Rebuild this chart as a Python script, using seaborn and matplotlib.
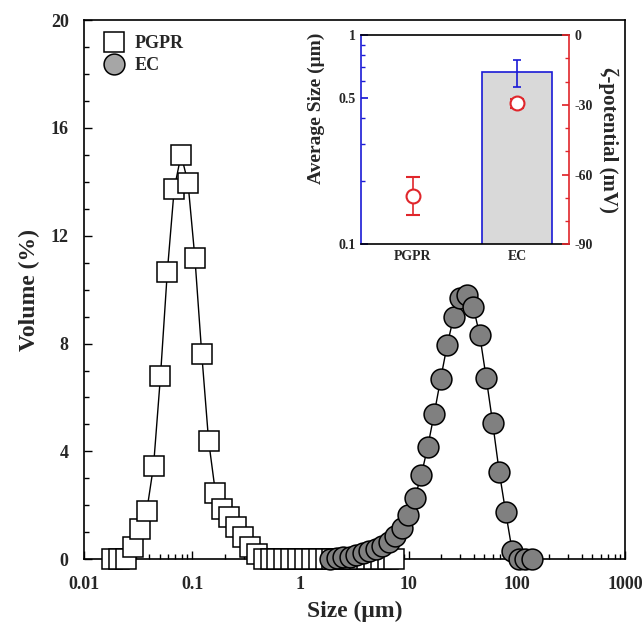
import numpy as np
import pandas as pd
import matplotlib
matplotlib.use('Agg')
import matplotlib.pyplot as plt
import seaborn as sns
from matplotlib.lines import Line2D
from matplotlib.ticker import LogLocator, MultipleLocator, NullFormatter, FixedLocator

sns.set_theme(style='ticks')
plt.rcParams['font.family'] = ['Liberation Serif', 'DejaVu Serif']
plt.rcParams['font.weight'] = 'bold'
plt.rcParams['axes.labelweight'] = 'bold'
plt.rcParams['axes.unicode_minus'] = False

# ---------------- data ----------------
pgpr_size = [0.01827, 0.02114, 0.02447, 0.02834, 0.03281, 0.03800, 0.04396, 0.05090,
             0.05893, 0.06822, 0.07898, 0.09144, 0.1059, 0.1226, 0.1419, 0.1642,
             0.1901, 0.2201, 0.2548, 0.2950, 0.3415, 0.3954, 0.4577, 0.5299,
             0.6135, 0.7101, 0.8221, 0.9517, 1.102, 1.276, 1.477, 1.710,
             1.979, 2.292, 2.652, 3.071, 3.555, 4.116, 4.764, 5.515, 6.385, 7.391]
pgpr_volume = [0, 0, 0, 0.46, 1.11, 1.78, 3.47, 6.78,
               10.67, 13.74, 15.0, 13.97, 11.19, 7.61, 4.39, 2.46,
               1.88, 1.55, 1.21, 0.83, 0.47, 0.18, 0, 0,
               0, 0, 0, 0, 0, 0, 0, 0,
               0, 0, 0, 0, 0, 0, 0, 0, 0, 0]

ec_size = [1.886, 2.165, 2.486, 2.855, 3.278, 3.765, 4.324, 4.965,
           5.702, 6.548, 7.52, 8.635, 9.915, 11.39, 13.08, 15.02,
           17.24, 19.81, 22.74, 26.12, 29.99, 34.44, 39.54, 45.41,
           52.14, 59.88, 68.76, 78.96, 90.68, 104.1, 119.6, 137.3]
ec_volume = [0, 0.03, 0.07, 0.10, 0.16, 0.22, 0.29, 0.38,
             0.49, 0.64, 0.86, 1.16, 1.63, 2.27, 3.11, 4.17,
             5.39, 6.70, 7.95, 9.00, 9.68, 9.81, 9.37, 8.32,
             6.73, 5.05, 3.25, 1.74, 0.31, 0, 0, 0]

x_ticks = [0.01, 0.1, 1, 10, 100, 1000]
x_tick_labels = ['0.01', '0.1', '1', '10', '100', '1000']
y_ticks = [0, 4, 8, 12, 16, 20]

inset_categories = ['PGPR', 'EC']
avg_size = [0.08, 0.663]
avg_size_err = [0.01, 0.097]
zeta = [-69.1, -29.4]
zeta_err = [8.2, 2.0]

BLUE = '#1a1ad6'
RED = '#e0262b'

# ---------------- figure ----------------
fig = plt.figure(figsize=(6.44, 6.26), dpi=100)
ax = fig.add_axes([0.1304, 0.1066, 0.8401, 0.8614])
ax.set_xscale('log')

df_p = pd.DataFrame({'size': pgpr_size, 'volume': pgpr_volume})
df_e = pd.DataFrame({'size': ec_size, 'volume': ec_volume})

sns.lineplot(data=df_p, x='size', y='volume', ax=ax, sort=False, estimator=None,
             color='black', lw=1.0, marker='s', markersize=15,
             markerfacecolor='white', markeredgecolor='black', markeredgewidth=1.1,
             clip_on=False, zorder=3)
sns.lineplot(data=df_e, x='size', y='volume', ax=ax, sort=False, estimator=None,
             color='black', lw=1.0, marker='o', markersize=15,
             markerfacecolor='#808080', markeredgecolor='black', markeredgewidth=1.1,
             clip_on=False, zorder=4)

ax.set_xlim(0.01, 1000)
ax.set_ylim(0, 20)
ax.set_xticks(x_ticks)
ax.set_xticklabels(x_tick_labels)
ax.xaxis.set_minor_locator(LogLocator(base=10, subs=np.arange(2, 10)))
ax.xaxis.set_minor_formatter(NullFormatter())
ax.set_yticks(y_ticks)
ax.yaxis.set_minor_locator(MultipleLocator(1))
ax.tick_params(which='both', direction='in', top=False, right=False, color='black')
ax.tick_params(which='major', length=6, width=1.0, labelsize=13, pad=11)
ax.tick_params(which='minor', length=3.5, width=1.0)
ax.tick_params(axis='x', which='major', pad=12)
for s in ax.spines.values():
    s.set_color('black')
    s.set_linewidth(1.2)
ax.set_xlabel('Size (μm)', fontsize=17, labelpad=6)
ax.set_ylabel('Volume (%)', fontsize=17, labelpad=8)

handles = [Line2D([], [], marker='s', ls='none', markersize=15, mfc='white', mec='black', mew=1.1),
           Line2D([], [], marker='o', ls='none', markersize=15, mfc='#a6a6a6', mec='black', mew=1.1)]
ax.legend(handles, inset_categories, loc='upper left', frameon=False, fontsize=13,
          handletextpad=0.5, labelspacing=0.25, borderaxespad=0.3, handlelength=1.2,
          bbox_to_anchor=(0.013, 0.995))

# ---------------- inset ----------------
axi = fig.add_axes([0.5606, 0.6097, 0.3230, 0.3344])
axi.set_facecolor('white')
axi.set_yscale('log')
df_in = pd.DataFrame({'sample': inset_categories, 'avg': avg_size})
sns.barplot(data=df_in, x='sample', y='avg', ax=axi, color='#d9d9d9', saturation=1,
            edgecolor=BLUE, linewidth=1.2, width=0.67, errorbar=None)
axi.errorbar([0, 1], avg_size, yerr=avg_size_err, fmt='none', ecolor=BLUE,
             elinewidth=1.2, capsize=2.6, capthick=1.2, zorder=5)
axi.set_xlim(-0.5, 1.5)
axi.set_ylim(0.1, 1)
axi.yaxis.set_major_locator(FixedLocator([0.1, 0.5, 1]))
axi.set_yticklabels(['0.1', '0.5', '1'])
axi.yaxis.set_minor_locator(LogLocator(base=10, subs=np.arange(2, 10)))
axi.yaxis.set_minor_formatter(NullFormatter())
axi.tick_params(axis='y', which='both', direction='in', color=BLUE, labelsize=10, pad=4)
axi.tick_params(axis='y', which='major', length=5)
axi.tick_params(axis='y', which='minor', length=3)
axi.tick_params(axis='x', length=0, labelsize=10, pad=4)
axi.set_xlabel('')
axi.set_ylabel('Average Size (μm)', fontsize=14)
axi.yaxis.set_label_coords(-0.173, 0.65)
axi.spines['left'].set_color(BLUE)
axi.spines['right'].set_visible(False)
for k in ['top', 'bottom', 'left']:
    axi.spines[k].set_linewidth(1.2)
axi.spines['top'].set_color('black')
axi.spines['bottom'].set_color('black')

axz = axi.twinx()
axz.errorbar([0, 1], zeta, yerr=zeta_err, fmt='o', color=RED, mfc='white', mec=RED,
             markersize=10, mew=1.5, elinewidth=1.2, capsize=4.8, capthick=1.2, zorder=6)
axz.set_ylim(-90, 0)
axz.set_yticks([-90, -60, -30, 0])
axz.yaxis.set_minor_locator(MultipleLocator(10))
axz.tick_params(axis='y', which='both', direction='in', color=RED, labelsize=10, pad=4)
axz.tick_params(axis='y', which='major', length=5)
axz.tick_params(axis='y', which='minor', length=3)
axz.spines['right'].set_color(RED)
axz.spines['right'].set_linewidth(1.2)
axz.spines['left'].set_visible(False)
axz.spines['top'].set_visible(False)
axz.spines['bottom'].set_visible(False)
axz.set_ylabel('ζ-potential (mV)', fontsize=15, rotation=270, va='center')
axz.yaxis.set_label_coords(1.19, 0.5)
axz.set_xlim(-0.5, 1.5)

fig.savefig('out.png', dpi=100)
